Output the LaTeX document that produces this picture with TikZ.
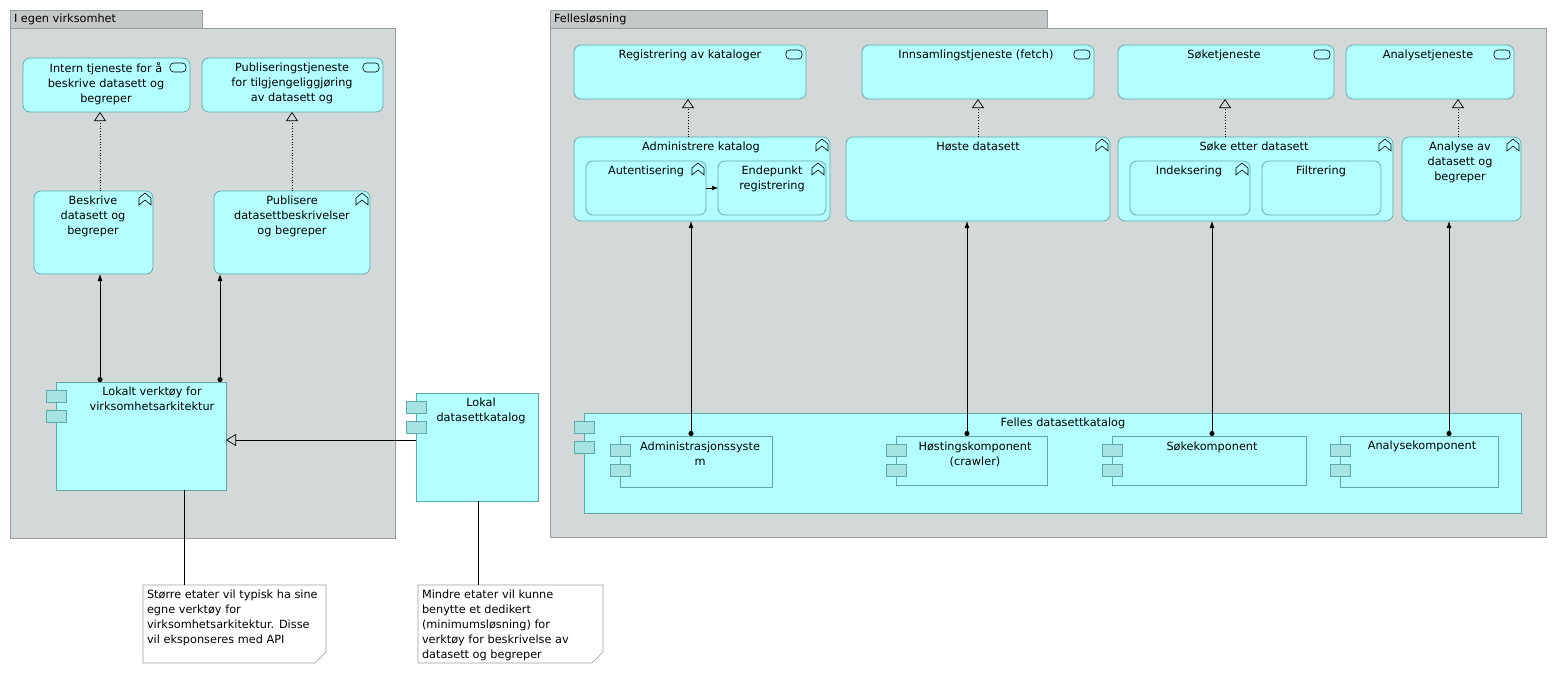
\documentclass[tikz,border=0pt]{standalone}
\usepackage{fontspec}
\setmainfont{DejaVu Sans}
\usetikzlibrary{arrows.meta,calc}
\definecolor{grp}{HTML}{D3D8D8}
\definecolor{grptab}{HTML}{C4C8C8}
\definecolor{grpline}{HTML}{9A9E9E}
\definecolor{app}{HTML}{B3FFFF}
\definecolor{appline}{HTML}{5FA8A8}
\definecolor{iconf}{HTML}{A6E3E3}
\tikzset{
  every node/.style={font=\fontsize{11.3}{15}\selectfont, inner sep=0pt, outer sep=0pt},
  grpbox/.style={draw=grpline, fill=grp, line width=0.7pt},
  tabbox/.style={draw=grpline, fill=grptab, line width=0.7pt},
  rbox/.style={draw=appline, fill=app, line width=0.7pt, rounded corners=7pt},
  cbox/.style={draw=appline, fill=app, line width=0.7pt},
  ibox/.style={draw=appline, fill=iconf, line width=0.7pt},
  note/.style={draw=grpline, fill=white, line width=0.6pt},
  txt/.style={align=center, anchor=north},
  serve/.style={line width=0.8pt, {Circle[length=5pt]}-{Latex[length=7pt,width=5pt]}},
  real/.style={line width=0.7pt, dotted, -{Triangle[open,length=9pt,width=12pt]}},
  spec/.style={line width=0.7pt, -{Triangle[open,length=10pt,width=12pt]}},
  plain/.style={line width=0.7pt},
}
\newcommand{\mkbox}[6]{%
  \pgfmathsetmacro{\mkw}{#5-#3}\pgfmathsetmacro{\mkh}{#6-#4}%
  \pgfmathsetmacro{\mkx}{(#3+#5)/2}\pgfmathsetmacro{\mky}{(#4+#6)/2}%
  \node[#1, minimum width=\mkw pt, minimum height=\mkh pt] (#2) at (\mkx,\mky) {};}
\newcommand{\fnicon}[1]{%
  \draw[line width=0.6pt] ($(#1.north east)+(-14,14)$) -- ++(0,-7) -- ++(6,-5) -- ++(6,5) -- ++(0,7) -- ++(-6,-5) -- cycle;}
\newcommand{\svicon}[1]{%
  \draw[line width=0.6pt, rounded corners=3.5pt] ($(#1.north east)+(-20,5)$) rectangle ($(#1.north east)+(-4,14)$);}
\newcommand{\cpicon}[3]{%
  \fill[ibox] (#1-10,#2+8) rectangle (#1+10,#2+20);
  \fill[ibox] (#1-10,#2+28) rectangle (#1+10,#2+40);}
\begin{document}
\begin{tikzpicture}[x=1pt,y=-1pt]
\useasboundingbox (0,0) rectangle (1557,675);
% groups
\mkbox{tabbox}{g1tab}{10}{10}{202}{28}
\mkbox{grpbox}{g1}{10}{28}{395}{538}
\node[anchor=west] at (14,19) {I egen virksomhet};
\mkbox{tabbox}{g2tab}{550}{10}{1047}{28}
\mkbox{grpbox}{g2}{550}{28}{1546}{537}
\node[anchor=west] at (554,19) {Fellesløsning};
% services
\mkbox{rbox}{s1}{23}{58}{190}{112}\svicon{s1}
\node[txt] at (106,63) {Intern tjeneste for å\\beskrive datasett og\\begreper};
\mkbox{rbox}{s2}{202}{58}{383}{112}\svicon{s2}
\node[txt] at (292,63) {Publiseringstjeneste\\for tilgjengeliggjøring\\av datasett og};
\mkbox{rbox}{s3}{574}{45}{806}{99}\svicon{s3}
\node[txt] at (690,50) {Registrering av kataloger};
\mkbox{rbox}{s4}{862}{45}{1094}{99}\svicon{s4}
\node[txt] at (976,50) {Innsamlingstjeneste (fetch)};
\mkbox{rbox}{s5}{1118}{45}{1334}{99}\svicon{s5}
\node[txt] at (1224,50) {Søketjeneste};
\mkbox{rbox}{s6}{1346}{45}{1514}{99}\svicon{s6}
\node[txt] at (1428,50) {Analysetjeneste};
% functions
\mkbox{rbox}{f1}{34}{191}{153}{274}\fnicon{f1}
\node[txt] at (93,196) {Beskrive\\datasett og\\begreper};
\mkbox{rbox}{f2}{214}{191}{370}{274}\fnicon{f2}
\node[txt] at (292,196) {Publisere\\datasettbeskrivelser\\og begreper};
\mkbox{rbox}{f3}{574}{137}{830}{221}\fnicon{f3}
\node[txt] at (701,142) {Administrere katalog};
\mkbox{rbox}{f3a}{586}{161}{706}{215}\fnicon{f3a}
\node[txt] at (646,166) {Autentisering};
\mkbox{rbox}{f3b}{718}{161}{826}{215}\fnicon{f3b}
\node[txt] at (772,166) {Endepunkt\\registrering};
\mkbox{rbox}{f4}{846}{137}{1110}{221}\fnicon{f4}
\node[txt] at (978,142) {Høste datasett};
\mkbox{rbox}{f5}{1118}{137}{1393}{221}\fnicon{f5}
\node[txt] at (1254,142) {Søke etter datasett};
\mkbox{rbox}{f5a}{1130}{161}{1250}{215}\fnicon{f5a}
\node[txt] at (1189,166) {Indeksering};
\mkbox{rbox}{f5b}{1262}{161}{1381}{215}
\node[txt] at (1321,166) {Filtrering};
\mkbox{rbox}{f6}{1402}{137}{1521}{221}\fnicon{f6}
\node[txt] at (1460,142) {Analyse av\\datasett og\\begreper};
% components
\mkbox{cbox}{c1}{56}{382}{226}{490}\cpicon{56}{382}{}
\node[txt] at (152,387) {Lokalt verktøy for\\virksomhetsarkitektur};
\mkbox{cbox}{c2}{416}{393}{538}{501}\cpicon{416}{393}{}
\node[txt] at (481,398) {Lokal\\datasettkatalog};
\mkbox{cbox}{c3}{584}{413}{1521}{513}\cpicon{584}{413}{}
\node[txt] at (1063,418) {Felles datasettkatalog};
\mkbox{cbox}{c3a}{620}{436}{772}{487}\cpicon{620}{436}{}
\node[txt] at (700,442) {Administrasjonssyste\\m};
\mkbox{cbox}{c3b}{896}{436}{1047}{485}\cpicon{896}{436}{}
\node[txt] at (975,442) {Høstingskomponent\\(crawler)};
\mkbox{cbox}{c3c}{1112}{436}{1306}{485}\cpicon{1112}{436}{}
\node[txt] at (1212,442) {Søkekomponent};
\mkbox{cbox}{c3d}{1340}{436}{1498}{487}\cpicon{1340}{436}{}
\node[txt] at (1422,441) {Analysekomponent};
% notes
\draw[note] (143,585) -- (326,585) -- (326,652) -- (315,663) -- (143,663) -- cycle;
\node[coordinate] (n1) at (184,585) {};
\node[anchor=north west, align=left] at (147,590) {Større etater vil typisk ha sine\\egne verktøy for\\virksomhetsarkitektur. Disse\\vil eksponseres med API};
\draw[note] (418,585) -- (603,585) -- (603,652) -- (592,663) -- (418,663) -- cycle;
\node[coordinate] (n2) at (478,585) {};
\begin{scope}
\clip (418,585) rectangle (603,662);
\node[anchor=north west, align=left] at (422,590) {Mindre etater vil kunne\\benytte et dedikert\\(minimumsløsning) for\\verktøy for beskrivelse av\\datasett og begreper};
\end{scope}
% connectors
\draw[real] (f1.north -| 100,0) -- (s1.south -| 100,0);
\draw[real] (f2.north -| 292,0) -- (s2.south -| 292,0);
\draw[real] (f3.north -| 688,0) -- (s3.south -| 688,0);
\draw[real] (f4.north -| 978,0) -- (s4.south -| 978,0);
\draw[real] (f5.north -| 1225,0) -- (s5.south -| 1225,0);
\draw[real] (f6.north -| 1458,0) -- (s6.south -| 1458,0);
\draw[serve] (c1.north -| 100,0) -- (f1.south -| 100,0);
\draw[serve] (c1.north -| 220,0) -- (f2.south -| 220,0);
\draw[serve] (c3a.north -| 691,0) -- (f3.south -| 691,0);
\draw[serve] (c3b.north -| 967,0) -- (f4.south -| 967,0);
\draw[serve] (c3c.north -| 1212,0) -- (f5.south -| 1212,0);
\draw[serve] (c3d.north -| 1449,0) -- (f6.south -| 1449,0);
\draw[spec] (c2.west |- 0,440) -- (c1.east |- 0,440);
\draw[line width=0.7pt, -{Latex[length=6pt,width=5pt]}] (f3a.east |- 0,188) -- (f3b.west |- 0,188);
\draw[plain] (c1.south -| 184,0) -- (n1);
\draw[plain] (c2.south -| 478,0) -- (n2);
\end{tikzpicture}
\end{document}
